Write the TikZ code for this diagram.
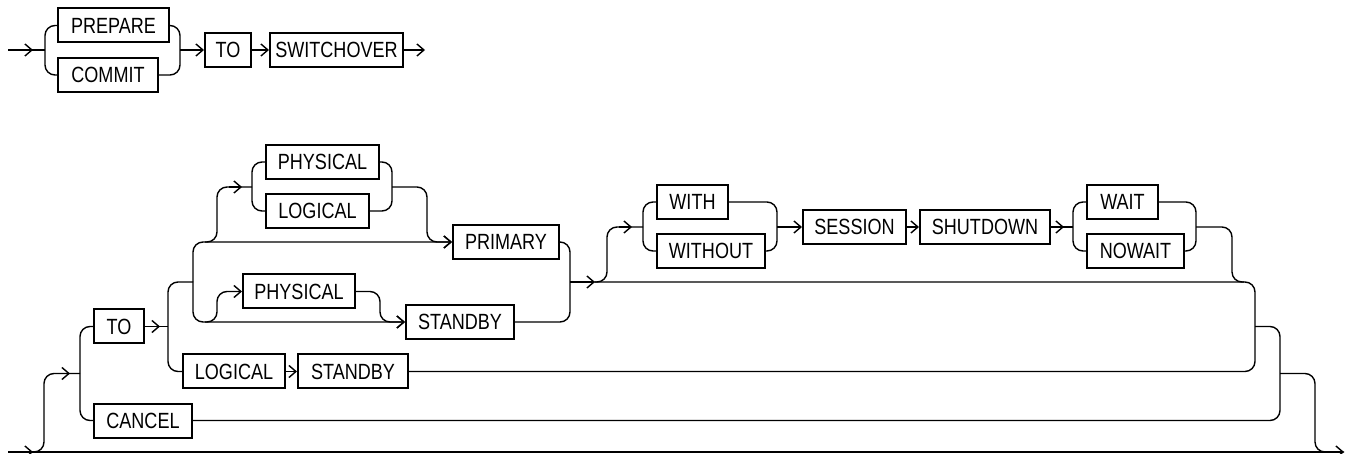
\documentclass[tikz,border=0pt]{standalone}
\usepackage{fontspec}
\setmainfont{Liberation Sans}[FakeStretch=0.82]
\usetikzlibrary{arrows.meta}

\begin{document}
\begin{tikzpicture}[x=1pt,y=-1pt,
    every node/.style={font=\fontsize{22}{26}\selectfont},
    kw/.style={draw,line width=2pt,minimum height=34pt,inner sep=0pt,anchor=west},
    rail/.style={line width=1.4pt,rounded corners=10pt},
    arr/.style={rail,-{Straight Barb[length=7pt,width=12pt]}}]

  \useasboundingbox (0,0) rectangle (1350,454);

  % first diagram
  \coordinate (in1)  at (8,50);
  \coordinate (s1)   at (45,50);
  \coordinate (m1)   at (180,50);
  \coordinate (out1) at (425,50);

  \node[kw,minimum width=111pt] (prep)   at (57,25.5) {PREPARE};
  \node[kw,minimum width=100pt] (commit) at (57,75)   {COMMIT};
  \node[kw,minimum width=46pt]  (to1)    at (204,50)  {TO};
  \node[kw,minimum width=133pt] (switch) at (269,50)  {SWITCHOVER};

  \draw[rail] (in1) -- (s1);
  \draw[arr] (in1) -- ++(25,0);
  \draw[rail] (prep.west) -| (s1) |- (commit.west);
  \draw[rail] (prep.east) -| (m1) |- (commit.east);
  \draw[arr] (m1) -- (to1.west);
  \draw[arr] (to1) -- (switch);
  \draw[arr] (switch) -- (out1);

  % second diagram
  \coordinate (in2)  at (8,452);
  \coordinate (out2) at (1344,452);
  \coordinate (r0)   at (44,373.5);
  \coordinate (s2)   at (80,373.5);
  \coordinate (s3)   at (168,326.5);
  \coordinate (s4)   at (193,282);
  \coordinate (u1)   at (205,242);
  \coordinate (u2)   at (217,187);
  \coordinate (s5)   at (252,187);
  \coordinate (m5)   at (392,187);
  \coordinate (d5)   at (427,242);
  \coordinate (u3)   at (205,322);
  \coordinate (u4)   at (217,291.5);
  \coordinate (d6)   at (380,322);
  \coordinate (m6)   at (570,282);
  \coordinate (u5)   at (595,282);
  \coordinate (u6)   at (607,227);
  \coordinate (s7)   at (643,227);
  \coordinate (m7)   at (777,227);
  \coordinate (s8)   at (1073,227);
  \coordinate (m8)   at (1196,227);
  \coordinate (d8)   at (1232,282);
  \coordinate (j1)   at (1255,326.5);
  \coordinate (j2)   at (1280,373.5);
  \coordinate (j3)   at (1315,452);

  \node[kw,minimum width=50pt]  (to2)      at (93,326.5)  {TO};
  \node[kw,minimum width=98pt]  (cancel)   at (93,420.5)  {CANCEL};
  \node[kw,minimum width=113pt] (phys1)    at (265,162)   {PHYSICAL};
  \node[kw,minimum width=103pt] (log1)     at (265,211)   {LOGICAL};
  \node[kw,minimum width=106pt] (primary)  at (452,242)   {PRIMARY};
  \node[kw,minimum width=112pt] (phys2)    at (242,291.5) {PHYSICAL};
  \node[kw,minimum width=108pt] (stby1)    at (405,322)   {STANDBY};
  \node[kw,minimum width=102pt] (log2)     at (182,371.5) {LOGICAL};
  \node[kw,minimum width=110pt] (stby2)    at (297,371.5) {STANDBY};
  \node[kw,minimum width=71pt]  (with)     at (656,202)   {WITH};
  \node[kw,minimum width=108pt] (without)  at (656,251)   {WITHOUT};
  \node[kw,minimum width=103pt] (session)  at (802,227)   {SESSION};
  \node[kw,minimum width=130pt] (shutdown) at (919,227)   {SHUTDOWN};
  \node[kw,minimum width=71pt]  (wait)     at (1086,202)  {WAIT};
  \node[kw,minimum width=97pt]  (nowait)   at (1086,251)  {NOWAIT};

  \draw[arr] (in2) -- (out2);
  \draw[arr] (in2) -- ++(25,0);
  \draw[rail] (in2) -| (r0) -- (s2);
  \draw[arr] ([xshift=10pt]r0) -- ([xshift=-10pt]s2);
  \draw[rail] (to2.west) -| (s2) |- (cancel.west);
  \draw[rail] (to2.east) -- (s3);
  \draw[arr] (to2.east) -- ++(15,0);
  \draw[rail] (s4) -| (s3) |- (log2.west);
  \draw[arr] (s4) |- (primary.west);
  \draw[arr] (s4) |- (stby1.west);
  \draw[rail] (u1) -| (u2) -- (s5);
  \draw[arr] ([xshift=12pt]u2) -- ([xshift=-10pt]s5);
  \draw[rail] (phys1.west) -| (s5) |- (log1.west);
  \draw[rail] (phys1.east) -| (m5) |- (log1.east);
  \draw[arr] (m5) -| (d5) -- (primary.west);
  \draw[arr] (u3) -| (u4) -- (phys2.west);
  \draw[arr] (phys2.east) -| (d6) -- (stby1.west);
  \draw[arr] (log2) -- (stby2);
  \draw[rail] (primary.east) -| (m6) |- (stby1.east);
  \draw[arr] (m6) -- (u5);
  \draw[rail] (m6) -| (j1) |- (stby2.east);
  \draw[rail] (u5) -| (u6) -- (s7);
  \draw[arr] ([xshift=12pt]u6) -- ([xshift=-11pt]s7);
  \draw[rail] (with.west) -| (s7) |- (without.west);
  \draw[rail] (with.east) -| (m7) |- (without.east);
  \draw[arr] (m7) -- (session.west);
  \draw[arr] (session) -- (shutdown);
  \draw[rail] (shutdown.east) -- (s8);
  \draw[arr] (shutdown.east) -- ++(13,0);
  \draw[rail] (wait.west) -| (s8) |- (nowait.west);
  \draw[rail] (wait.east) -| (m8) |- (nowait.east);
  \draw[rail] (m8) -| (d8) -- ++(12,0);
  \draw[rail] (j1) -| (j2) |- (cancel.east);
  \draw[rail] (j2) -| (j3) -- (out2);
\end{tikzpicture}
\end{document}
